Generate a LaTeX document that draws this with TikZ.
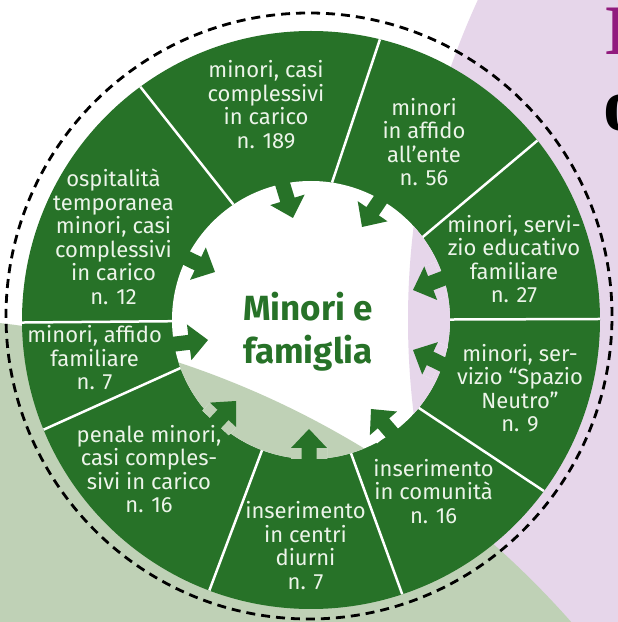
\documentclass[tikz,border=0pt]{standalone}
\usepackage{fontspec}
\setmainfont{Fira Sans}
\newfontfamily\bigserif{Liberation Serif}

\definecolor{ringgreen}{RGB}{39,114,40}
\definecolor{bggreen}{RGB}{191,209,182}
\definecolor{bgpurple}{RGB}{230,214,234}
\definecolor{letterpurple}{RGB}{145,27,125}
\definecolor{labeltext}{RGB}{236,244,233}

% page background, redrawn wherever the ring is cut open
\newcommand{\bgfill}{%
  \fill[white] (0,0) rectangle (618,622);
  \fill[bgpurple] (1174,302) circle (766pt);
  \fill[bggreen] (-105,-597) circle (902pt);}

% block arrow: tip x, tip y, direction
\newcommand{\inarrow}[3]{%
  \begin{scope}[shift={(#1,#2)},rotate=#3]
    \coordinate (na) at (-19,18);
    \coordinate (nb) at (-30,18);
    \coordinate (nc) at (-30,-18);
    \coordinate (nd) at (-19,-18);
  \end{scope}
  \begin{scope}
    \clip (na) -- (nb) -- (nc) -- (nd) -- cycle;
    \bgfill
  \end{scope}
  \begin{scope}[shift={(#1,#2)},rotate=#3]
    \fill[ringgreen] (0,0) -- (-19,18) -- (-19,7.5) -- (-62,7.5)
      -- (-62,-7.5) -- (-19,-7.5) -- (-19,-18) -- cycle;
  \end{scope}}

\begin{document}
\begin{tikzpicture}[x=1pt,y=1pt]

      \useasboundingbox (0,0) rectangle (618,622);
      \bgfill

      % title letters cut by the page edge
      \node[anchor=base west,inner sep=0,text=letterpurple,
        font=\bigserif\bfseries\fontsize{71}{71}\selectfont] (capA) at (604,567) {I};
      \node[anchor=base west,inner sep=0,
        font=\bigserif\bfseries\fontsize{76}{76}\selectfont] (capB) at (603,491) {o};

      \coordinate (c) at (311,302);
      \draw[line width=2.8pt,dash pattern=on 9pt off 6pt] (309,306) circle (303pt);
      \fill[ringgreen] (c) circle (289pt);

      \begin{scope}[shift={(c)},white,line width=2.5pt]
        \draw (123.9:139) -- (126.2:289);
        \draw (81.3:139) -- (76.2:289);
        \draw (36.6:139) -- (38.4:289);
        \draw (0.2:139) -- (0.2:289);
        \draw (-39.2:139) -- (-36.3:289);
        \draw (-73.3:139) -- (-71.6:289);
        \draw (-110.6:139) -- (-110.6:289);
        \draw (-159.8:139) -- (-157.7:289);
        \draw (180.5:139) -- (180.5:289);
      \end{scope}

      \begin{scope}
        \clip (c) circle (139pt);
        \bgfill
      \end{scope}

      \inarrow{293}{404}{-73}
      \inarrow{362}{395}{-124}
      \inarrow{215}{350}{-26}
      \inarrow{208}{282}{7}
      \inarrow{236}{221}{47}
      \inarrow{309}{193}{90}
      \inarrow{371}{213}{131}
      \inarrow{413}{272}{154}
      \inarrow{413}{332}{-159}

      \begin{scope}[every node/.style={align=center,inner sep=0,text=labeltext,
          font=\fontsize{22}{23.5}\selectfont}]
        \node (casi)       at (266,517.5) {minori, casi\\complessivi\\in carico\\n. 189};
        \node (ente)       at (424,480)   {minori\\in affido\\all’ente\\n. 56};
        \node (ospitalita) at (113.5,385) {ospitalità\\temporanea\\minori, casi\\complessivi\\in carico\\n. 12};
        \node (educativo)  at (514,363)   {minori, servi-\\zio educativo\\familiare\\n. 27};
        \node (affido)     at (94.6,264)  {minori, affido\\familiare\\n. 7};
        \node (neutro)     at (520,234)   {minori, ser-\\vizio “Spazio\\Neutro”\\n. 9};
        \node (penale)     at (149,153)   {penale minori,\\casi comples-\\sivi in carico\\n. 16};
        \node (comunita)   at (433.6,130.5) {inserimento\\in comunità\\n. 16};
        \node (diurni)     at (305.5,76.5) {inserimento\\in centri\\diurni\\n. 7};
      \end{scope}

      \node[align=center,inner sep=0,text=ringgreen,
        font=\bfseries\fontsize{35}{43}\selectfont] (centro) at (308,290) {Minori e\\famiglia};

    \end{tikzpicture}
\end{document}
